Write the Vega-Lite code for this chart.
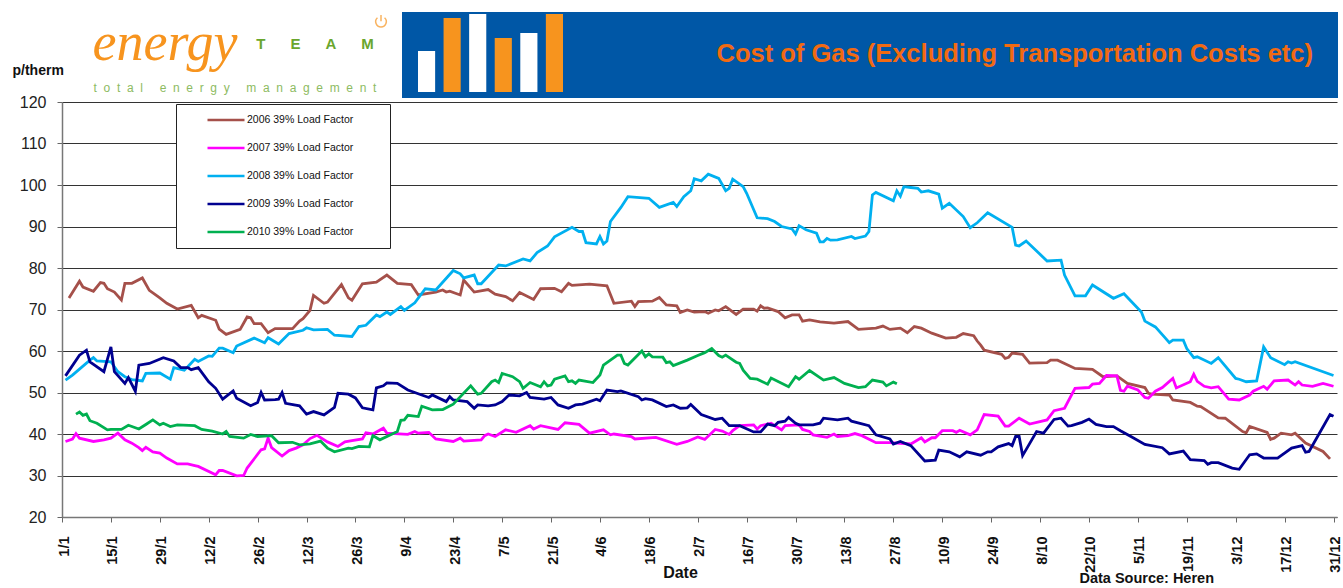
{"$schema":"https://vega.github.io/schema/vega-lite/v6.json","padding":{"left":12,"top":11,"right":0,"bottom":0},"background":"white","bounds":"flush","spacing":90,"resolve":{"scale":{"color":"independent"},"legend":{"color":"independent"}},"config":{"font":"Liberation Sans","view":{"stroke":null}},"vconcat":[{"hconcat":[{"width":340,"height":86,"layer":[{"data":{"values":[{"col":"energy","row":"name","label":"energy"}]},"mark":{"type":"text","font":"Liberation Serif","fontStyle":"italic","fontSize":54,"color":"#F7941E","baseline":"middle","dx":3},"encoding":{"x":{"field":"col","type":"nominal","axis":null,"scale":{"type":"point","padding":0,"domain":["energy","tagline","team","icon"],"range":[100,319]}},"y":{"field":"row","type":"nominal","axis":null,"scale":{"type":"point","padding":0,"domain":["icon","name","blank","tagline"],"range":[10,76]}},"text":{"field":"label"}}},{"data":{"values":[{"col":"team","row":"name","label":"T\u00a0\u00a0\u00a0\u00a0\u00a0\u00a0E\u00a0\u00a0\u00a0\u00a0\u00a0\u00a0A\u00a0\u00a0\u00a0\u00a0\u00a0\u00a0M"}]},"mark":{"type":"text","font":"Liberation Sans","fontWeight":"bold","fontSize":15,"color":"#6AA62E","baseline":"middle","dx":7},"encoding":{"x":{"field":"col","type":"nominal","axis":null},"y":{"field":"row","type":"nominal","axis":null},"text":{"field":"label"}}},{"data":{"values":[{"col":"tagline","row":"tagline","label":"t\u00a0\u00a0o\u00a0\u00a0t\u00a0\u00a0a\u00a0\u00a0l\u00a0\u00a0\u00a0\u00a0\u00a0e\u00a0\u00a0n\u00a0\u00a0e\u00a0\u00a0r\u00a0\u00a0g\u00a0\u00a0y\u00a0\u00a0\u00a0\u00a0\u00a0m\u00a0\u00a0a\u00a0\u00a0n\u00a0\u00a0a\u00a0\u00a0g\u00a0\u00a0e\u00a0\u00a0m\u00a0\u00a0e\u00a0\u00a0n\u00a0\u00a0t"}]},"mark":{"type":"text","font":"Liberation Sans","fontSize":12,"color":"#8DBB62","baseline":"middle"},"encoding":{"x":{"field":"col","type":"nominal","axis":null},"y":{"field":"row","type":"nominal","axis":null},"text":{"field":"label"}}},{"data":{"values":[{"col":"icon","row":"icon"}]},"mark":{"type":"point","shape":"M0,-1V-0.1M-0.5,-0.6A0.75,0.75 0 1 0 0.5,-0.6","filled":false,"size":200,"stroke":"#F7941E","strokeWidth":1.5,"dx":0},"encoding":{"x":{"field":"col","type":"nominal","axis":null},"y":{"field":"row","type":"nominal","axis":null}}}]},{"width":936,"height":86,"view":{"fill":"#0057A6"},"title":{"text":"Cost of Gas (Excluding Transportation Costs etc)","orient":"top","anchor":"end","frame":"group","offset":0,"dx":-25,"dy":55,"font":"Liberation Sans","fontSize":25.5,"fontWeight":"bold","color":"#F26A12"},"data":{"values":[{"bar":"a","value":41,"tone":"white"},{"bar":"b","value":74,"tone":"orange"},{"bar":"c","value":78,"tone":"white"},{"bar":"d","value":54,"tone":"orange"},{"bar":"e","value":59,"tone":"white"},{"bar":"f","value":78,"tone":"orange"}]},"mark":{"type":"bar"},"encoding":{"x":{"field":"bar","type":"nominal","axis":null,"scale":{"type":"band","range":[16,161],"paddingInner":0.33,"paddingOuter":0}},"y":{"field":"value","type":"quantitative","axis":null,"scale":{"domain":[0,78],"range":[80,2]}},"color":{"field":"tone","type":"nominal","legend":null,"scale":{"domain":["white","orange"],"range":["#FFFFFF","#F7941E"]}}}}],"spacing":0,"bounds":"flush"},{"width":1275,"height":415,"title":{"text":"Data Source: Heren","orient":"bottom","anchor":"end","frame":"group","offset":0,"dx":-123,"dy":-8,"font":"Liberation Sans","fontSize":14.5,"fontWeight":"bold","color":"#111111"},"data":{"values":[
{"date":"2001-01-03","year":"2006","p":72.8},{"date":"2001-01-06","year":"2006","p":76.8},{"date":"2001-01-07","year":"2006","p":75.4},{"date":"2001-01-10","year":"2006","p":74.4},{"date":"2001-01-12","year":"2006","p":76.5},{"date":"2001-01-13","year":"2006","p":76.3},{"date":"2001-01-14","year":"2006","p":75},{"date":"2001-01-16","year":"2006","p":74.2},{"date":"2001-01-18","year":"2006","p":72.3},{"date":"2001-01-19","year":"2006","p":76.3},{"date":"2001-01-21","year":"2006","p":76.3},{"date":"2001-01-24","year":"2006","p":77.6},{"date":"2001-01-26","year":"2006","p":74.6},{"date":"2001-01-29","year":"2006","p":72.8},{"date":"2001-01-31","year":"2006","p":71.5},{"date":"2001-02-03","year":"2006","p":70.1},{"date":"2001-02-07","year":"2006","p":71},{"date":"2001-02-09","year":"2006","p":68},{"date":"2001-02-10","year":"2006","p":68.6},{"date":"2001-02-14","year":"2006","p":67.4},{"date":"2001-02-15","year":"2006","p":65.3},{"date":"2001-02-17","year":"2006","p":64},{"date":"2001-02-21","year":"2006","p":65.2},{"date":"2001-02-23","year":"2006","p":68.2},{"date":"2001-02-24","year":"2006","p":68},{"date":"2001-02-25","year":"2006","p":66.6},{"date":"2001-02-27","year":"2006","p":66.6},{"date":"2001-03-01","year":"2006","p":64.4},{"date":"2001-03-03","year":"2006","p":65.4},{"date":"2001-03-08","year":"2006","p":65.4},{"date":"2001-03-10","year":"2006","p":67.2},{"date":"2001-03-11","year":"2006","p":67.8},{"date":"2001-03-13","year":"2006","p":69.8},{"date":"2001-03-14","year":"2006","p":73.4},{"date":"2001-03-17","year":"2006","p":71.5},{"date":"2001-03-18","year":"2006","p":71.8},{"date":"2001-03-22","year":"2006","p":76},{"date":"2001-03-24","year":"2006","p":72.8},{"date":"2001-03-25","year":"2006","p":72.2},{"date":"2001-03-28","year":"2006","p":76.2},{"date":"2001-04-01","year":"2006","p":76.6},{"date":"2001-04-04","year":"2006","p":78.3},{"date":"2001-04-07","year":"2006","p":76.3},{"date":"2001-04-11","year":"2006","p":76},{"date":"2001-04-13","year":"2006","p":73.5},{"date":"2001-04-18","year":"2006","p":74.2},{"date":"2001-04-20","year":"2006","p":74.7},{"date":"2001-04-21","year":"2006","p":74.2},{"date":"2001-04-22","year":"2006","p":74.4},{"date":"2001-04-25","year":"2006","p":73.5},{"date":"2001-04-26","year":"2006","p":77.1},{"date":"2001-04-29","year":"2006","p":74.2},{"date":"2001-05-03","year":"2006","p":74.8},{"date":"2001-05-05","year":"2006","p":73.7},{"date":"2001-05-08","year":"2006","p":73.1},{"date":"2001-05-10","year":"2006","p":72.1},{"date":"2001-05-12","year":"2006","p":74.1},{"date":"2001-05-16","year":"2006","p":72.4},{"date":"2001-05-18","year":"2006","p":75},{"date":"2001-05-22","year":"2006","p":75.1},{"date":"2001-05-24","year":"2006","p":74.3},{"date":"2001-05-26","year":"2006","p":76.3},{"date":"2001-05-27","year":"2006","p":75.8},{"date":"2001-06-01","year":"2006","p":76.1},{"date":"2001-06-06","year":"2006","p":75.7},{"date":"2001-06-08","year":"2006","p":71.5},{"date":"2001-06-13","year":"2006","p":72},{"date":"2001-06-14","year":"2006","p":70.7},{"date":"2001-06-15","year":"2006","p":71.9},{"date":"2001-06-19","year":"2006","p":72},{"date":"2001-06-21","year":"2006","p":72.9},{"date":"2001-06-23","year":"2006","p":71.1},{"date":"2001-06-26","year":"2006","p":70.9},{"date":"2001-06-27","year":"2006","p":69.3},{"date":"2001-06-29","year":"2006","p":69.9},{"date":"2001-07-01","year":"2006","p":69.4},{"date":"2001-07-04","year":"2006","p":69.5},{"date":"2001-07-05","year":"2006","p":69.1},{"date":"2001-07-07","year":"2006","p":69.9},{"date":"2001-07-08","year":"2006","p":69.7},{"date":"2001-07-10","year":"2006","p":70.7},{"date":"2001-07-13","year":"2006","p":68.8},{"date":"2001-07-15","year":"2006","p":70.1},{"date":"2001-07-18","year":"2006","p":70.1},{"date":"2001-07-19","year":"2006","p":69.6},{"date":"2001-07-20","year":"2006","p":70.9},{"date":"2001-07-21","year":"2006","p":70.3},{"date":"2001-07-22","year":"2006","p":70.4},{"date":"2001-07-25","year":"2006","p":69.5},{"date":"2001-07-27","year":"2006","p":68},{"date":"2001-07-29","year":"2006","p":68.7},{"date":"2001-07-31","year":"2006","p":68.7},{"date":"2001-08-01","year":"2006","p":67.2},{"date":"2001-08-03","year":"2006","p":67.5},{"date":"2001-08-06","year":"2006","p":67},{"date":"2001-08-10","year":"2006","p":66.7},{"date":"2001-08-14","year":"2006","p":67.1},{"date":"2001-08-17","year":"2006","p":65.2},{"date":"2001-08-22","year":"2006","p":65.5},{"date":"2001-08-24","year":"2006","p":66},{"date":"2001-08-26","year":"2006","p":65.2},{"date":"2001-08-29","year":"2006","p":65.5},{"date":"2001-08-31","year":"2006","p":64.4},{"date":"2001-09-02","year":"2006","p":65.9},{"date":"2001-09-04","year":"2006","p":65.5},{"date":"2001-09-07","year":"2006","p":64.3},{"date":"2001-09-11","year":"2006","p":63.1},{"date":"2001-09-14","year":"2006","p":63.3},{"date":"2001-09-16","year":"2006","p":64.2},{"date":"2001-09-19","year":"2006","p":63.7},{"date":"2001-09-20","year":"2006","p":62.4},{"date":"2001-09-21","year":"2006","p":61.4},{"date":"2001-09-22","year":"2006","p":60.2},{"date":"2001-09-27","year":"2006","p":59.2},{"date":"2001-09-28","year":"2006","p":58.2},{"date":"2001-09-29","year":"2006","p":58.5},{"date":"2001-09-30","year":"2006","p":59.5},{"date":"2001-10-03","year":"2006","p":59.2},{"date":"2001-10-05","year":"2006","p":57.1},{"date":"2001-10-10","year":"2006","p":57.2},{"date":"2001-10-11","year":"2006","p":57.8},{"date":"2001-10-13","year":"2006","p":57.8},{"date":"2001-10-18","year":"2006","p":55.8},{"date":"2001-10-23","year":"2006","p":55.6},{"date":"2001-10-26","year":"2006","p":53.8},{"date":"2001-10-30","year":"2006","p":54},{"date":"2001-11-02","year":"2006","p":52.2},{"date":"2001-11-07","year":"2006","p":51.2},{"date":"2001-11-08","year":"2006","p":49.8},{"date":"2001-11-09","year":"2006","p":49.6},{"date":"2001-11-14","year":"2006","p":49.4},{"date":"2001-11-15","year":"2006","p":48.2},{"date":"2001-11-20","year":"2006","p":47.6},{"date":"2001-11-22","year":"2006","p":46.7},{"date":"2001-11-23","year":"2006","p":46.6},{"date":"2001-11-28","year":"2006","p":43.9},{"date":"2001-11-30","year":"2006","p":43.8},{"date":"2001-12-05","year":"2006","p":40.6},{"date":"2001-12-06","year":"2006","p":40.3},{"date":"2001-12-07","year":"2006","p":41.8},{"date":"2001-12-12","year":"2006","p":40.4},{"date":"2001-12-13","year":"2006","p":38.7},{"date":"2001-12-14","year":"2006","p":39},{"date":"2001-12-16","year":"2006","p":40.2},{"date":"2001-12-19","year":"2006","p":39.8},{"date":"2001-12-20","year":"2006","p":40.2},{"date":"2001-12-23","year":"2006","p":37.8},{"date":"2001-12-28","year":"2006","p":35.8},{"date":"2001-12-30","year":"2006","p":34},
{"date":"2001-01-02","year":"2007","p":38.2},{"date":"2001-01-04","year":"2007","p":38.8},{"date":"2001-01-05","year":"2007","p":40.1},{"date":"2001-01-06","year":"2007","p":39},{"date":"2001-01-10","year":"2007","p":38.2},{"date":"2001-01-13","year":"2007","p":38.6},{"date":"2001-01-15","year":"2007","p":39},{"date":"2001-01-17","year":"2007","p":40.2},{"date":"2001-01-19","year":"2007","p":38.6},{"date":"2001-01-21","year":"2007","p":37.8},{"date":"2001-01-23","year":"2007","p":36.7},{"date":"2001-01-24","year":"2007","p":36},{"date":"2001-01-25","year":"2007","p":36.8},{"date":"2001-01-27","year":"2007","p":35.7},{"date":"2001-01-29","year":"2007","p":35.4},{"date":"2001-01-31","year":"2007","p":34.2},{"date":"2001-02-03","year":"2007","p":32.8},{"date":"2001-02-06","year":"2007","p":32.8},{"date":"2001-02-08","year":"2007","p":32.4},{"date":"2001-02-09","year":"2007","p":32.2},{"date":"2001-02-14","year":"2007","p":30.2},{"date":"2001-02-15","year":"2007","p":31.2},{"date":"2001-02-16","year":"2007","p":31.2},{"date":"2001-02-20","year":"2007","p":29.9},{"date":"2001-02-22","year":"2007","p":30},{"date":"2001-02-23","year":"2007","p":31.8},{"date":"2001-02-27","year":"2007","p":36.2},{"date":"2001-02-28","year":"2007","p":36.4},{"date":"2001-03-01","year":"2007","p":39},{"date":"2001-03-02","year":"2007","p":36.7},{"date":"2001-03-05","year":"2007","p":34.7},{"date":"2001-03-07","year":"2007","p":36},{"date":"2001-03-09","year":"2007","p":36.6},{"date":"2001-03-11","year":"2007","p":37.4},{"date":"2001-03-13","year":"2007","p":38.9},{"date":"2001-03-15","year":"2007","p":39.7},{"date":"2001-03-18","year":"2007","p":38.1},{"date":"2001-03-21","year":"2007","p":37},{"date":"2001-03-23","year":"2007","p":38.1},{"date":"2001-03-25","year":"2007","p":38.4},{"date":"2001-03-28","year":"2007","p":38.8},{"date":"2001-03-29","year":"2007","p":40.3},{"date":"2001-03-31","year":"2007","p":40},{"date":"2001-04-03","year":"2007","p":41.4},{"date":"2001-04-04","year":"2007","p":40.2},{"date":"2001-04-10","year":"2007","p":39.9},{"date":"2001-04-12","year":"2007","p":40.6},{"date":"2001-04-13","year":"2007","p":40.2},{"date":"2001-04-16","year":"2007","p":40.4},{"date":"2001-04-18","year":"2007","p":38.8},{"date":"2001-04-23","year":"2007","p":38.2},{"date":"2001-04-25","year":"2007","p":39},{"date":"2001-04-26","year":"2007","p":38.3},{"date":"2001-05-01","year":"2007","p":38.6},{"date":"2001-05-02","year":"2007","p":39.6},{"date":"2001-05-03","year":"2007","p":40},{"date":"2001-05-05","year":"2007","p":39.4},{"date":"2001-05-08","year":"2007","p":41},{"date":"2001-05-11","year":"2007","p":40.4},{"date":"2001-05-15","year":"2007","p":42},{"date":"2001-05-16","year":"2007","p":41.2},{"date":"2001-05-18","year":"2007","p":42},{"date":"2001-05-23","year":"2007","p":41.1},{"date":"2001-05-25","year":"2007","p":42.7},{"date":"2001-05-29","year":"2007","p":42.3},{"date":"2001-06-01","year":"2007","p":40.2},{"date":"2001-06-05","year":"2007","p":41},{"date":"2001-06-07","year":"2007","p":39.8},{"date":"2001-06-08","year":"2007","p":40},{"date":"2001-06-13","year":"2007","p":39.4},{"date":"2001-06-14","year":"2007","p":38.8},{"date":"2001-06-20","year":"2007","p":39.2},{"date":"2001-06-26","year":"2007","p":37.5},{"date":"2001-06-29","year":"2007","p":38.2},{"date":"2001-07-02","year":"2007","p":39.3},{"date":"2001-07-04","year":"2007","p":38.7},{"date":"2001-07-07","year":"2007","p":41.1},{"date":"2001-07-09","year":"2007","p":40.7},{"date":"2001-07-11","year":"2007","p":39.9},{"date":"2001-07-12","year":"2007","p":40.8},{"date":"2001-07-14","year":"2007","p":42},{"date":"2001-07-18","year":"2007","p":42.2},{"date":"2001-07-19","year":"2007","p":41.2},{"date":"2001-07-20","year":"2007","p":42},{"date":"2001-07-23","year":"2007","p":42.6},{"date":"2001-07-26","year":"2007","p":41},{"date":"2001-07-27","year":"2007","p":42},{"date":"2001-07-31","year":"2007","p":42.2},{"date":"2001-08-01","year":"2007","p":41.1},{"date":"2001-08-03","year":"2007","p":40.6},{"date":"2001-08-04","year":"2007","p":39.8},{"date":"2001-08-08","year":"2007","p":39.2},{"date":"2001-08-10","year":"2007","p":40},{"date":"2001-08-11","year":"2007","p":39.4},{"date":"2001-08-14","year":"2007","p":39.6},{"date":"2001-08-16","year":"2007","p":40.1},{"date":"2001-08-18","year":"2007","p":39.6},{"date":"2001-08-22","year":"2007","p":37.9},{"date":"2001-08-26","year":"2007","p":37.9},{"date":"2001-09-01","year":"2007","p":37.6},{"date":"2001-09-04","year":"2007","p":39.1},{"date":"2001-09-05","year":"2007","p":38.1},{"date":"2001-09-07","year":"2007","p":39.1},{"date":"2001-09-08","year":"2007","p":39.1},{"date":"2001-09-10","year":"2007","p":40.8},{"date":"2001-09-13","year":"2007","p":40.8},{"date":"2001-09-14","year":"2007","p":40.4},{"date":"2001-09-15","year":"2007","p":40.9},{"date":"2001-09-18","year":"2007","p":39.8},{"date":"2001-09-20","year":"2007","p":41},{"date":"2001-09-22","year":"2007","p":44.7},{"date":"2001-09-26","year":"2007","p":44.3},{"date":"2001-09-28","year":"2007","p":41.9},{"date":"2001-09-29","year":"2007","p":41.9},{"date":"2001-10-02","year":"2007","p":43.8},{"date":"2001-10-05","year":"2007","p":42.4},{"date":"2001-10-10","year":"2007","p":43.4},{"date":"2001-10-12","year":"2007","p":45.6},{"date":"2001-10-15","year":"2007","p":46.2},{"date":"2001-10-18","year":"2007","p":51},{"date":"2001-10-22","year":"2007","p":51.2},{"date":"2001-10-23","year":"2007","p":52},{"date":"2001-10-25","year":"2007","p":52.2},{"date":"2001-10-27","year":"2007","p":54.1},{"date":"2001-10-30","year":"2007","p":54},{"date":"2001-10-31","year":"2007","p":50.5},{"date":"2001-11-01","year":"2007","p":50.3},{"date":"2001-11-02","year":"2007","p":51.5},{"date":"2001-11-05","year":"2007","p":50.6},{"date":"2001-11-07","year":"2007","p":48.8},{"date":"2001-11-08","year":"2007","p":48.6},{"date":"2001-11-10","year":"2007","p":50.3},{"date":"2001-11-12","year":"2007","p":51.2},{"date":"2001-11-15","year":"2007","p":53.4},{"date":"2001-11-16","year":"2007","p":51.1},{"date":"2001-11-20","year":"2007","p":52.6},{"date":"2001-11-21","year":"2007","p":54.4},{"date":"2001-11-22","year":"2007","p":52.7},{"date":"2001-11-24","year":"2007","p":51.5},{"date":"2001-11-26","year":"2007","p":51.1},{"date":"2001-11-28","year":"2007","p":51.4},{"date":"2001-12-01","year":"2007","p":48.4},{"date":"2001-12-04","year":"2007","p":48.2},{"date":"2001-12-07","year":"2007","p":49.4},{"date":"2001-12-08","year":"2007","p":50.3},{"date":"2001-12-11","year":"2007","p":51.5},{"date":"2001-12-12","year":"2007","p":50.8},{"date":"2001-12-14","year":"2007","p":52.8},{"date":"2001-12-18","year":"2007","p":53},{"date":"2001-12-20","year":"2007","p":51.8},{"date":"2001-12-21","year":"2007","p":52.6},{"date":"2001-12-22","year":"2007","p":51.8},{"date":"2001-12-25","year":"2007","p":51.5},{"date":"2001-12-28","year":"2007","p":52.2},{"date":"2001-12-31","year":"2007","p":51.5},
{"date":"2001-01-02","year":"2008","p":53},{"date":"2001-01-04","year":"2008","p":54.2},{"date":"2001-01-09","year":"2008","p":57.8},{"date":"2001-01-10","year":"2008","p":58.4},{"date":"2001-01-11","year":"2008","p":57.6},{"date":"2001-01-15","year":"2008","p":57.4},{"date":"2001-01-17","year":"2008","p":55},{"date":"2001-01-19","year":"2008","p":53.8},{"date":"2001-01-21","year":"2008","p":53.1},{"date":"2001-01-24","year":"2008","p":52.8},{"date":"2001-01-25","year":"2008","p":54.6},{"date":"2001-01-29","year":"2008","p":54.7},{"date":"2001-02-01","year":"2008","p":53.2},{"date":"2001-02-02","year":"2008","p":56},{"date":"2001-02-05","year":"2008","p":55.4},{"date":"2001-02-06","year":"2008","p":56.2},{"date":"2001-02-08","year":"2008","p":58},{"date":"2001-02-09","year":"2008","p":57.5},{"date":"2001-02-12","year":"2008","p":58.8},{"date":"2001-02-13","year":"2008","p":58.7},{"date":"2001-02-15","year":"2008","p":60.7},{"date":"2001-02-16","year":"2008","p":60.7},{"date":"2001-02-19","year":"2008","p":59.6},{"date":"2001-02-20","year":"2008","p":61.2},{"date":"2001-02-25","year":"2008","p":63.1},{"date":"2001-02-28","year":"2008","p":62},{"date":"2001-03-01","year":"2008","p":63.2},{"date":"2001-03-04","year":"2008","p":61.7},{"date":"2001-03-07","year":"2008","p":64.2},{"date":"2001-03-11","year":"2008","p":65},{"date":"2001-03-12","year":"2008","p":65.6},{"date":"2001-03-14","year":"2008","p":65.1},{"date":"2001-03-18","year":"2008","p":65.2},{"date":"2001-03-20","year":"2008","p":63.8},{"date":"2001-03-25","year":"2008","p":63.5},{"date":"2001-03-27","year":"2008","p":65.9},{"date":"2001-03-29","year":"2008","p":66.2},{"date":"2001-04-01","year":"2008","p":68.7},{"date":"2001-04-02","year":"2008","p":68.3},{"date":"2001-04-04","year":"2008","p":69.4},{"date":"2001-04-05","year":"2008","p":68.8},{"date":"2001-04-08","year":"2008","p":70.7},{"date":"2001-04-09","year":"2008","p":69.8},{"date":"2001-04-12","year":"2008","p":71.6},{"date":"2001-04-15","year":"2008","p":75},{"date":"2001-04-18","year":"2008","p":74.7},{"date":"2001-04-23","year":"2008","p":79.4},{"date":"2001-04-25","year":"2008","p":78.6},{"date":"2001-04-26","year":"2008","p":77.6},{"date":"2001-04-29","year":"2008","p":78.3},{"date":"2001-04-30","year":"2008","p":76.2},{"date":"2001-05-01","year":"2008","p":76.2},{"date":"2001-05-06","year":"2008","p":80.7},{"date":"2001-05-08","year":"2008","p":80.5},{"date":"2001-05-13","year":"2008","p":82.2},{"date":"2001-05-15","year":"2008","p":81.7},{"date":"2001-05-17","year":"2008","p":83.7},{"date":"2001-05-20","year":"2008","p":85.3},{"date":"2001-05-22","year":"2008","p":87.5},{"date":"2001-05-27","year":"2008","p":89.8},{"date":"2001-05-29","year":"2008","p":88.8},{"date":"2001-05-30","year":"2008","p":88.8},{"date":"2001-05-31","year":"2008","p":86.1},{"date":"2001-06-03","year":"2008","p":85.8},{"date":"2001-06-04","year":"2008","p":87.6},{"date":"2001-06-05","year":"2008","p":85.8},{"date":"2001-06-06","year":"2008","p":86.5},{"date":"2001-06-07","year":"2008","p":91.2},{"date":"2001-06-10","year":"2008","p":94.6},{"date":"2001-06-12","year":"2008","p":97.2},{"date":"2001-06-18","year":"2008","p":96.8},{"date":"2001-06-21","year":"2008","p":94.6},{"date":"2001-06-25","year":"2008","p":95.8},{"date":"2001-06-26","year":"2008","p":94.8},{"date":"2001-06-28","year":"2008","p":97.2},{"date":"2001-06-30","year":"2008","p":98.6},{"date":"2001-07-01","year":"2008","p":101.5},{"date":"2001-07-03","year":"2008","p":101},{"date":"2001-07-05","year":"2008","p":102.6},{"date":"2001-07-08","year":"2008","p":101.6},{"date":"2001-07-10","year":"2008","p":98.6},{"date":"2001-07-11","year":"2008","p":99.2},{"date":"2001-07-12","year":"2008","p":101.4},{"date":"2001-07-15","year":"2008","p":99.6},{"date":"2001-07-16","year":"2008","p":98},{"date":"2001-07-19","year":"2008","p":92.1},{"date":"2001-07-22","year":"2008","p":91.9},{"date":"2001-07-24","year":"2008","p":91.2},{"date":"2001-07-26","year":"2008","p":90},{"date":"2001-07-29","year":"2008","p":89.4},{"date":"2001-07-30","year":"2008","p":88.2},{"date":"2001-07-31","year":"2008","p":90.2},{"date":"2001-08-02","year":"2008","p":89.2},{"date":"2001-08-05","year":"2008","p":88.4},{"date":"2001-08-06","year":"2008","p":86.3},{"date":"2001-08-07","year":"2008","p":86.3},{"date":"2001-08-08","year":"2008","p":87.1},{"date":"2001-08-09","year":"2008","p":86.7},{"date":"2001-08-11","year":"2008","p":86.8},{"date":"2001-08-15","year":"2008","p":87.6},{"date":"2001-08-16","year":"2008","p":87.1},{"date":"2001-08-19","year":"2008","p":87.7},{"date":"2001-08-20","year":"2008","p":88.8},{"date":"2001-08-21","year":"2008","p":97.6},{"date":"2001-08-22","year":"2008","p":98.2},{"date":"2001-08-27","year":"2008","p":96.2},{"date":"2001-08-28","year":"2008","p":98.6},{"date":"2001-08-29","year":"2008","p":97.3},{"date":"2001-08-30","year":"2008","p":99.6},{"date":"2001-09-01","year":"2008","p":99.4},{"date":"2001-09-03","year":"2008","p":99.2},{"date":"2001-09-04","year":"2008","p":98.3},{"date":"2001-09-06","year":"2008","p":98.6},{"date":"2001-09-09","year":"2008","p":97.8},{"date":"2001-09-10","year":"2008","p":94.4},{"date":"2001-09-12","year":"2008","p":95.6},{"date":"2001-09-16","year":"2008","p":92.4},{"date":"2001-09-18","year":"2008","p":89.7},{"date":"2001-09-20","year":"2008","p":90.9},{"date":"2001-09-23","year":"2008","p":93.3},{"date":"2001-09-30","year":"2008","p":89.8},{"date":"2001-10-01","year":"2008","p":85.5},{"date":"2001-10-02","year":"2008","p":85.3},{"date":"2001-10-04","year":"2008","p":86.5},{"date":"2001-10-10","year":"2008","p":81.7},{"date":"2001-10-14","year":"2008","p":81.9},{"date":"2001-10-15","year":"2008","p":78.3},{"date":"2001-10-18","year":"2008","p":73.3},{"date":"2001-10-21","year":"2008","p":73.3},{"date":"2001-10-23","year":"2008","p":75.9},{"date":"2001-10-29","year":"2008","p":72.7},{"date":"2001-11-01","year":"2008","p":73.8},{"date":"2001-11-06","year":"2008","p":69.4},{"date":"2001-11-07","year":"2008","p":67.2},{"date":"2001-11-10","year":"2008","p":65.8},{"date":"2001-11-13","year":"2008","p":63},{"date":"2001-11-14","year":"2008","p":62},{"date":"2001-11-15","year":"2008","p":62.6},{"date":"2001-11-18","year":"2008","p":62.6},{"date":"2001-11-19","year":"2008","p":60.6},{"date":"2001-11-21","year":"2008","p":58.4},{"date":"2001-11-22","year":"2008","p":58.6},{"date":"2001-11-26","year":"2008","p":57},{"date":"2001-11-28","year":"2008","p":58.4},{"date":"2001-12-03","year":"2008","p":53.4},{"date":"2001-12-04","year":"2008","p":53.2},{"date":"2001-12-06","year":"2008","p":52.6},{"date":"2001-12-09","year":"2008","p":52.8},{"date":"2001-12-11","year":"2008","p":61},{"date":"2001-12-13","year":"2008","p":58.4},{"date":"2001-12-17","year":"2008","p":56.7},{"date":"2001-12-18","year":"2008","p":57.4},{"date":"2001-12-19","year":"2008","p":57.1},{"date":"2001-12-20","year":"2008","p":57.4},{"date":"2001-12-31","year":"2008","p":54.1},
{"date":"2001-01-02","year":"2009","p":54},{"date":"2001-01-06","year":"2009","p":59},{"date":"2001-01-08","year":"2009","p":60.2},{"date":"2001-01-09","year":"2009","p":57.4},{"date":"2001-01-13","year":"2009","p":55},{"date":"2001-01-15","year":"2009","p":61},{"date":"2001-01-16","year":"2009","p":55},{"date":"2001-01-19","year":"2009","p":52.2},{"date":"2001-01-20","year":"2009","p":53.6},{"date":"2001-01-22","year":"2009","p":50.3},{"date":"2001-01-23","year":"2009","p":56.6},{"date":"2001-01-26","year":"2009","p":57},{"date":"2001-01-30","year":"2009","p":58.4},{"date":"2001-02-02","year":"2009","p":57.6},{"date":"2001-02-04","year":"2009","p":56},{"date":"2001-02-06","year":"2009","p":56},{"date":"2001-02-07","year":"2009","p":55.5},{"date":"2001-02-09","year":"2009","p":56},{"date":"2001-02-12","year":"2009","p":52.6},{"date":"2001-02-14","year":"2009","p":51},{"date":"2001-02-16","year":"2009","p":48.4},{"date":"2001-02-19","year":"2009","p":50.4},{"date":"2001-02-20","year":"2009","p":48.6},{"date":"2001-02-24","year":"2009","p":46.8},{"date":"2001-02-26","year":"2009","p":47.6},{"date":"2001-02-27","year":"2009","p":50},{"date":"2001-02-28","year":"2009","p":48.2},{"date":"2001-03-03","year":"2009","p":48.3},{"date":"2001-03-04","year":"2009","p":48.4},{"date":"2001-03-05","year":"2009","p":50},{"date":"2001-03-06","year":"2009","p":47.4},{"date":"2001-03-10","year":"2009","p":46.8},{"date":"2001-03-12","year":"2009","p":44.8},{"date":"2001-03-14","year":"2009","p":45.4},{"date":"2001-03-17","year":"2009","p":44.6},{"date":"2001-03-20","year":"2009","p":46.4},{"date":"2001-03-21","year":"2009","p":49.8},{"date":"2001-03-24","year":"2009","p":49.6},{"date":"2001-03-26","year":"2009","p":48.7},{"date":"2001-03-28","year":"2009","p":46.3},{"date":"2001-03-31","year":"2009","p":45.8},{"date":"2001-04-01","year":"2009","p":51.1},{"date":"2001-04-03","year":"2009","p":51.6},{"date":"2001-04-04","year":"2009","p":52.3},{"date":"2001-04-07","year":"2009","p":52.2},{"date":"2001-04-10","year":"2009","p":50.6},{"date":"2001-04-16","year":"2009","p":48.8},{"date":"2001-04-17","year":"2009","p":49.4},{"date":"2001-04-21","year":"2009","p":47.8},{"date":"2001-04-22","year":"2009","p":49},{"date":"2001-04-23","year":"2009","p":48.2},{"date":"2001-04-27","year":"2009","p":47.8},{"date":"2001-04-29","year":"2009","p":46.2},{"date":"2001-04-30","year":"2009","p":47},{"date":"2001-05-03","year":"2009","p":46.8},{"date":"2001-05-05","year":"2009","p":47},{"date":"2001-05-07","year":"2009","p":47.8},{"date":"2001-05-09","year":"2009","p":49.4},{"date":"2001-05-12","year":"2009","p":49.2},{"date":"2001-05-14","year":"2009","p":50},{"date":"2001-05-15","year":"2009","p":48.8},{"date":"2001-05-19","year":"2009","p":48.4},{"date":"2001-05-21","year":"2009","p":48.8},{"date":"2001-05-23","year":"2009","p":47},{"date":"2001-05-26","year":"2009","p":46.2},{"date":"2001-05-28","year":"2009","p":47},{"date":"2001-05-30","year":"2009","p":47.2},{"date":"2001-06-03","year":"2009","p":48.4},{"date":"2001-06-04","year":"2009","p":48},{"date":"2001-06-06","year":"2009","p":50.6},{"date":"2001-06-09","year":"2009","p":50.2},{"date":"2001-06-10","year":"2009","p":50.4},{"date":"2001-06-15","year":"2009","p":49},{"date":"2001-06-16","year":"2009","p":48.2},{"date":"2001-06-17","year":"2009","p":48.5},{"date":"2001-06-19","year":"2009","p":48.2},{"date":"2001-06-23","year":"2009","p":46.6},{"date":"2001-06-25","year":"2009","p":47},{"date":"2001-06-27","year":"2009","p":46.2},{"date":"2001-06-29","year":"2009","p":46.3},{"date":"2001-06-30","year":"2009","p":47.1},{"date":"2001-07-03","year":"2009","p":44.7},{"date":"2001-07-07","year":"2009","p":43.5},{"date":"2001-07-09","year":"2009","p":43.8},{"date":"2001-07-11","year":"2009","p":42},{"date":"2001-07-14","year":"2009","p":42},{"date":"2001-07-18","year":"2009","p":40.5},{"date":"2001-07-20","year":"2009","p":40.5},{"date":"2001-07-22","year":"2009","p":42.4},{"date":"2001-07-24","year":"2009","p":42},{"date":"2001-07-25","year":"2009","p":42.8},{"date":"2001-07-27","year":"2009","p":43.1},{"date":"2001-07-28","year":"2009","p":44},{"date":"2001-07-30","year":"2009","p":42.6},{"date":"2001-07-31","year":"2009","p":42.2},{"date":"2001-08-04","year":"2009","p":42.2},{"date":"2001-08-06","year":"2009","p":42.6},{"date":"2001-08-07","year":"2009","p":43.8},{"date":"2001-08-11","year":"2009","p":43.4},{"date":"2001-08-14","year":"2009","p":43.8},{"date":"2001-08-15","year":"2009","p":43.1},{"date":"2001-08-20","year":"2009","p":42},{"date":"2001-08-22","year":"2009","p":39.8},{"date":"2001-08-26","year":"2009","p":38.8},{"date":"2001-08-27","year":"2009","p":37.6},{"date":"2001-08-29","year":"2009","p":38.2},{"date":"2001-09-01","year":"2009","p":37.2},{"date":"2001-09-05","year":"2009","p":33.5},{"date":"2001-09-08","year":"2009","p":33.7},{"date":"2001-09-09","year":"2009","p":36.1},{"date":"2001-09-12","year":"2009","p":35.7},{"date":"2001-09-15","year":"2009","p":34.5},{"date":"2001-09-17","year":"2009","p":35.7},{"date":"2001-09-21","year":"2009","p":34.9},{"date":"2001-09-23","year":"2009","p":35.7},{"date":"2001-09-24","year":"2009","p":35.7},{"date":"2001-09-26","year":"2009","p":36.9},{"date":"2001-09-29","year":"2009","p":37.7},{"date":"2001-09-30","year":"2009","p":37.2},{"date":"2001-10-01","year":"2009","p":39.4},{"date":"2001-10-02","year":"2009","p":39.4},{"date":"2001-10-03","year":"2009","p":34.8},{"date":"2001-10-07","year":"2009","p":40.6},{"date":"2001-10-09","year":"2009","p":40.2},{"date":"2001-10-12","year":"2009","p":43.5},{"date":"2001-10-14","year":"2009","p":43.8},{"date":"2001-10-16","year":"2009","p":41.9},{"date":"2001-10-17","year":"2009","p":42},{"date":"2001-10-20","year":"2009","p":42.8},{"date":"2001-10-22","year":"2009","p":43.6},{"date":"2001-10-24","year":"2009","p":42.3},{"date":"2001-10-27","year":"2009","p":41.8},{"date":"2001-10-29","year":"2009","p":41.8},{"date":"2001-10-31","year":"2009","p":40.8},{"date":"2001-11-03","year":"2009","p":39.4},{"date":"2001-11-07","year":"2009","p":37.5},{"date":"2001-11-12","year":"2009","p":36.7},{"date":"2001-11-14","year":"2009","p":35.2},{"date":"2001-11-18","year":"2009","p":35.9},{"date":"2001-11-20","year":"2009","p":33.8},{"date":"2001-11-24","year":"2009","p":33.6},{"date":"2001-11-25","year":"2009","p":32.7},{"date":"2001-11-26","year":"2009","p":33.1},{"date":"2001-11-28","year":"2009","p":33.1},{"date":"2001-12-02","year":"2009","p":31.8},{"date":"2001-12-04","year":"2009","p":31.5},{"date":"2001-12-07","year":"2009","p":35},{"date":"2001-12-09","year":"2009","p":35.2},{"date":"2001-12-11","year":"2009","p":34.2},{"date":"2001-12-15","year":"2009","p":34.2},{"date":"2001-12-19","year":"2009","p":36.6},{"date":"2001-12-22","year":"2009","p":37.2},{"date":"2001-12-23","year":"2009","p":35.6},{"date":"2001-12-24","year":"2009","p":35.8},{"date":"2001-12-30","year":"2009","p":44.7},{"date":"2001-12-31","year":"2009","p":44.3},
{"date":"2001-01-05","year":"2010","p":44.8},{"date":"2001-01-06","year":"2010","p":45.3},{"date":"2001-01-07","year":"2010","p":44.5},{"date":"2001-01-08","year":"2010","p":44.8},{"date":"2001-01-09","year":"2010","p":43.2},{"date":"2001-01-11","year":"2010","p":42.6},{"date":"2001-01-14","year":"2010","p":41},{"date":"2001-01-15","year":"2010","p":41.1},{"date":"2001-01-18","year":"2010","p":41.1},{"date":"2001-01-20","year":"2010","p":42.1},{"date":"2001-01-23","year":"2010","p":41.2},{"date":"2001-01-25","year":"2010","p":42.3},{"date":"2001-01-27","year":"2010","p":43.4},{"date":"2001-01-29","year":"2010","p":42.2},{"date":"2001-01-30","year":"2010","p":42.6},{"date":"2001-02-01","year":"2010","p":41.8},{"date":"2001-02-03","year":"2010","p":42.2},{"date":"2001-02-08","year":"2010","p":42},{"date":"2001-02-10","year":"2010","p":41.1},{"date":"2001-02-13","year":"2010","p":40.7},{"date":"2001-02-16","year":"2010","p":40},{"date":"2001-02-17","year":"2010","p":40.6},{"date":"2001-02-18","year":"2010","p":39.4},{"date":"2001-02-22","year":"2010","p":39},{"date":"2001-02-24","year":"2010","p":39.9},{"date":"2001-02-26","year":"2010","p":39.4},{"date":"2001-03-02","year":"2010","p":39.6},{"date":"2001-03-04","year":"2010","p":37.9},{"date":"2001-03-08","year":"2010","p":38},{"date":"2001-03-10","year":"2010","p":37.4},{"date":"2001-03-13","year":"2010","p":37.6},{"date":"2001-03-16","year":"2010","p":38.3},{"date":"2001-03-18","year":"2010","p":36.6},{"date":"2001-03-20","year":"2010","p":35.7},{"date":"2001-03-24","year":"2010","p":36.6},{"date":"2001-03-25","year":"2010","p":36.5},{"date":"2001-03-27","year":"2010","p":37},{"date":"2001-03-30","year":"2010","p":36.9},{"date":"2001-03-31","year":"2010","p":39.6},{"date":"2001-04-02","year":"2010","p":38.6},{"date":"2001-04-07","year":"2010","p":40.6},{"date":"2001-04-08","year":"2010","p":43.3},{"date":"2001-04-09","year":"2010","p":43.4},{"date":"2001-04-10","year":"2010","p":44.5},{"date":"2001-04-13","year":"2010","p":44.2},{"date":"2001-04-14","year":"2010","p":46.7},{"date":"2001-04-17","year":"2010","p":45.8},{"date":"2001-04-20","year":"2010","p":45.9},{"date":"2001-04-23","year":"2010","p":47.2},{"date":"2001-04-28","year":"2010","p":51.6},{"date":"2001-04-30","year":"2010","p":49.6},{"date":"2001-05-01","year":"2010","p":49.8},{"date":"2001-05-04","year":"2010","p":52.6},{"date":"2001-05-05","year":"2010","p":53},{"date":"2001-05-06","year":"2010","p":52.4},{"date":"2001-05-07","year":"2010","p":54.6},{"date":"2001-05-10","year":"2010","p":53.8},{"date":"2001-05-12","year":"2010","p":52.6},{"date":"2001-05-13","year":"2010","p":51},{"date":"2001-05-15","year":"2010","p":52.4},{"date":"2001-05-18","year":"2010","p":51.4},{"date":"2001-05-19","year":"2010","p":52.6},{"date":"2001-05-20","year":"2010","p":51.6},{"date":"2001-05-21","year":"2010","p":51.8},{"date":"2001-05-22","year":"2010","p":53.2},{"date":"2001-05-25","year":"2010","p":54},{"date":"2001-05-26","year":"2010","p":52.6},{"date":"2001-05-27","year":"2010","p":52.8},{"date":"2001-05-28","year":"2010","p":52.2},{"date":"2001-05-29","year":"2010","p":53},{"date":"2001-06-02","year":"2010","p":52.4},{"date":"2001-06-04","year":"2010","p":54.2},{"date":"2001-06-05","year":"2010","p":56.6},{"date":"2001-06-07","year":"2010","p":57.8},{"date":"2001-06-09","year":"2010","p":59},{"date":"2001-06-10","year":"2010","p":59},{"date":"2001-06-11","year":"2010","p":57},{"date":"2001-06-12","year":"2010","p":56.6},{"date":"2001-06-16","year":"2010","p":60},{"date":"2001-06-17","year":"2010","p":58.6},{"date":"2001-06-18","year":"2010","p":59.3},{"date":"2001-06-19","year":"2010","p":58.6},{"date":"2001-06-22","year":"2010","p":58.5},{"date":"2001-06-23","year":"2010","p":57.2},{"date":"2001-06-24","year":"2010","p":57.4},{"date":"2001-06-25","year":"2010","p":56.5},{"date":"2001-06-29","year":"2010","p":57.8},{"date":"2001-07-02","year":"2010","p":58.9},{"date":"2001-07-04","year":"2010","p":59.6},{"date":"2001-07-06","year":"2010","p":60.6},{"date":"2001-07-08","year":"2010","p":58.9},{"date":"2001-07-09","year":"2010","p":58.5},{"date":"2001-07-10","year":"2010","p":59},{"date":"2001-07-13","year":"2010","p":57.3},{"date":"2001-07-14","year":"2010","p":57},{"date":"2001-07-15","year":"2010","p":55.4},{"date":"2001-07-17","year":"2010","p":53.4},{"date":"2001-07-19","year":"2010","p":53.2},{"date":"2001-07-22","year":"2010","p":52},{"date":"2001-07-23","year":"2010","p":53.5},{"date":"2001-07-28","year":"2010","p":51.4},{"date":"2001-07-30","year":"2010","p":53.8},{"date":"2001-07-31","year":"2010","p":53.2},{"date":"2001-08-03","year":"2010","p":55.3},{"date":"2001-08-07","year":"2010","p":53},{"date":"2001-08-10","year":"2010","p":53.6},{"date":"2001-08-13","year":"2010","p":52.2},{"date":"2001-08-17","year":"2010","p":51.2},{"date":"2001-08-19","year":"2010","p":51.4},{"date":"2001-08-21","year":"2010","p":53},{"date":"2001-08-24","year":"2010","p":52.5},{"date":"2001-08-25","year":"2010","p":51.6},{"date":"2001-08-27","year":"2010","p":52.5},{"date":"2001-08-28","year":"2010","p":52.1}
]},"mark":{"type":"line","strokeWidth":2.8,"clip":false},"encoding":{"x":{"field":"date","type":"temporal","scale":{"type":"utc","domain":[{"year":2001,"month":1,"date":1,"utc":true},{"year":2002,"month":1,"date":1,"utc":true}]},"axis":{"title":"Date","titleFont":"Liberation Sans","titleFontSize":16,"titleFontWeight":"bold","titleColor":"#111111","titleX":618,"titleY":55,"titleBaseline":"middle","titleAnchor":"middle","grid":false,"domainColor":"#777777","domainWidth":1.5,"tickColor":"#666666","tickSize":5,"tickWidth":1,"labelAngle":270,"labelAlign":"right","labelBaseline":"middle","labelPadding":14,"labelFontSize":14.5,"labelFontWeight":"bold","labelColor":"#111111","labelOverlap":false,"labelBound":false,"labelFlush":false,"labelOffset":2,"format":"%-d/%-m","values":[{"year":2001,"month":1,"date":1,"utc":true},{"year":2001,"month":1,"date":15,"utc":true},{"year":2001,"month":1,"date":29,"utc":true},{"year":2001,"month":2,"date":12,"utc":true},{"year":2001,"month":2,"date":26,"utc":true},{"year":2001,"month":3,"date":12,"utc":true},{"year":2001,"month":3,"date":26,"utc":true},{"year":2001,"month":4,"date":9,"utc":true},{"year":2001,"month":4,"date":23,"utc":true},{"year":2001,"month":5,"date":7,"utc":true},{"year":2001,"month":5,"date":21,"utc":true},{"year":2001,"month":6,"date":4,"utc":true},{"year":2001,"month":6,"date":18,"utc":true},{"year":2001,"month":7,"date":2,"utc":true},{"year":2001,"month":7,"date":16,"utc":true},{"year":2001,"month":7,"date":30,"utc":true},{"year":2001,"month":8,"date":13,"utc":true},{"year":2001,"month":8,"date":27,"utc":true},{"year":2001,"month":9,"date":10,"utc":true},{"year":2001,"month":9,"date":24,"utc":true},{"year":2001,"month":10,"date":8,"utc":true},{"year":2001,"month":10,"date":22,"utc":true},{"year":2001,"month":11,"date":5,"utc":true},{"year":2001,"month":11,"date":19,"utc":true},{"year":2001,"month":12,"date":3,"utc":true},{"year":2001,"month":12,"date":17,"utc":true},{"year":2001,"month":12,"date":31,"utc":true}]}},"y":{"field":"p","type":"quantitative","scale":{"domain":[20,120],"nice":false},"axis":{"title":"p/therm","titleFont":"Liberation Sans","titleFontSize":14,"titleFontWeight":"bold","titleColor":"#111111","titleAngle":0,"titleAlign":"left","titleBaseline":"middle","titleX":-50,"titleY":-32,"values":[20,30,40,50,60,70,80,90,100,110,120],"grid":true,"gridColor":"#333333","gridWidth":1,"domainColor":"#777777","domainWidth":1.5,"tickColor":"#666666","tickSize":5,"labelFontSize":16,"labelColor":"#222222","labelPadding":11}},"color":{"field":"year","type":"nominal","scale":{"domain":["2006","2007","2008","2009","2010"],"range":["#A5504A","#FF00FF","#00B0F0","#000090","#00B050"]},"legend":{"title":" ","titleOrient":"right","titlePadding":35,"orient":"none","legendX":114,"legendY":2,"fillColor":"white","strokeColor":"#222222","padding":2,"symbolType":"stroke","symbolSize":1369,"symbolStrokeWidth":2.5,"symbolOffset":28,"labelOffset":1,"clipHeight":28,"rowPadding":0,"labelFont":"Liberation Sans","labelFontSize":10.5,"labelColor":"#111111","labelLimit":200,"labelExpr":"datum.label + ' 39% Load Factor'"}}}}]}
